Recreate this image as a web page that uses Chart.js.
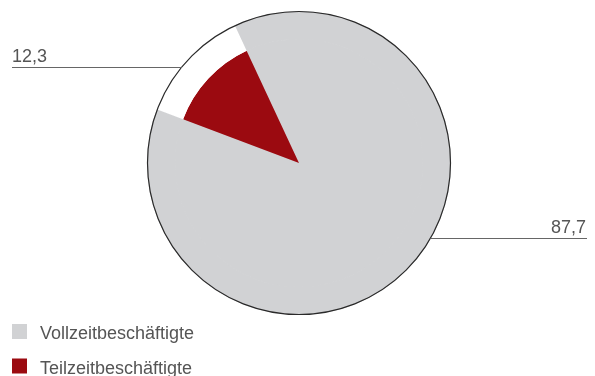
<!DOCTYPE html>
<html>
<head>
<meta charset="utf-8">
<script src="https://cdn.jsdelivr.net/npm/chart.js@4/dist/chart.umd.min.js"></script>
<style>
  html, body { margin: 0; padding: 0; background: #fff; }
  #wrap { position: relative; width: 595px; height: 376px; }
</style>
</head>
<body>
<div id="wrap"><canvas id="chart-js" width="595" height="376"></canvas></div>
<script>
const categories = ['Vollzeitbeschäftigte', 'Teilzeitbeschäftigte'];
const shares = [87.7, 12.3];
const valueLabels = ['87,7', '12,3'];
const colors = ['#d1d2d4', '#9b0a10'];

const FONT = '18px "Liberation Sans", Arial, sans-serif';
const TEXT = '#555';

// the outline circle, the value labels with leaders, and the legend
const decorations = {
    id: 'decorations',
    afterDatasetsDraw(chart) {
        const ctx = chart.ctx;
        const arc = chart.getDatasetMeta(0).data[0];
        const cx = arc.x, cy = arc.y, r = arc.outerRadius;

        ctx.save();
        ctx.beginPath();
        ctx.arc(cx, cy, r, 0, Math.PI * 2);
        ctx.strokeStyle = '#2a2a2a';
        ctx.lineWidth = 1.2;
        ctx.stroke();

        // leader lines: y offsets from the centre, text sits on them
        const leaders = [
            { i: 0, dy: 75, side: 1 },
            { i: 1, dy: -96, side: -1 }
        ];
        ctx.font = FONT;
        ctx.fillStyle = TEXT;
        ctx.strokeStyle = '#666';
        ctx.lineWidth = 1;
        leaders.forEach(l => {
            const y = Math.round(cy + l.dy) + 0.5;
            const xEdge = cx + l.side * Math.sqrt(r * r - l.dy * l.dy);
            const xEnd = l.side > 0 ? 587 : 12;
            ctx.beginPath();
            ctx.moveTo(xEdge, y);
            ctx.lineTo(xEnd, y);
            ctx.stroke();
            ctx.textBaseline = 'alphabetic';
            ctx.textAlign = l.side > 0 ? 'right' : 'left';
            ctx.fillText(valueLabels[l.i], l.side > 0 ? xEnd - 1 : xEnd, y - 6);
        });

        // legend
        ctx.textAlign = 'left';
        categories.forEach((c, i) => {
            const top = 324 + i * 34.5;
            ctx.fillStyle = colors[i];
            ctx.fillRect(12, top, 15, 15);
            ctx.fillStyle = TEXT;
            ctx.fillText(c, 40, top + 15);
        });
        ctx.restore();
    }
};

new Chart(document.getElementById('chart-js'), {
    type: 'pie',
    data: {
        labels: categories,
        datasets: [
            {
                // outer ring: the part-time slice is left empty here
                data: shares,
                backgroundColor: [colors[0], '#ffffff'],
                borderColor: [colors[0], '#ffffff'],
                borderWidth: [1, 0],
                weight: 1
            },
            {
                data: shares,
                backgroundColor: colors,
                borderColor: [colors[0], colors[1]],
                borderWidth: [1, 0],
                weight: 4.5
            }
        ]
    },
    options: {
        responsive: false,
        animation: false,
        rotation: -25,
        layout: { padding: { top: 11, bottom: 61, left: 3, right: 0 } },
        plugins: {
            legend: { display: false },
            tooltip: { enabled: false }
        }
    },
    plugins: [decorations]
});
</script>
</body>
</html>
